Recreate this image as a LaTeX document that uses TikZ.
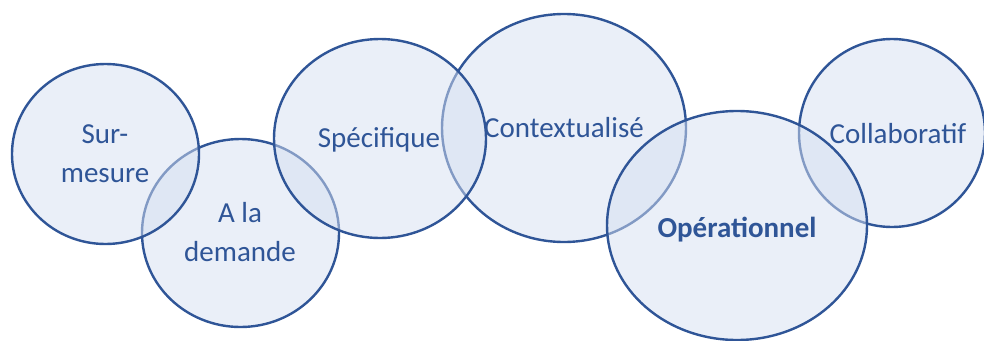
\documentclass[tikz,border=0pt]{standalone}
\usepackage{fontspec}
\setmainfont{Carlito}
\usetikzlibrary{shapes.geometric}
\definecolor{ringblue}{HTML}{2F5597}
\definecolor{ringfill}{HTML}{D5DFF1}
\tikzset{
  ring/.style={ellipse, draw=ringblue, line width=2.4pt, fill=ringfill, fill opacity=0.5, draw opacity=1, inner sep=0pt},
  lbl/.style={text=ringblue, font=\fontsize{29}{39}\selectfont, align=center, inner sep=0pt}
}
\begin{document}
\begin{tikzpicture}[x=1pt,y=-1pt]
\useasboundingbox (0,0) rectangle (984,340);
% circles (drawing order gives the overlaps)
\node[ring, minimum width=197pt, minimum height=188pt] (dem) at (240.5,233) {};
\node[ring, minimum width=187pt, minimum height=180pt] (sur) at (105.5,154) {};
\node[ring, minimum width=244pt, minimum height=228pt] (ctx) at (564,128) {};
\node[ring, minimum width=212pt, minimum height=199pt] (spe) at (380,138.5) {};
\node[ring, minimum width=186pt, minimum height=188pt] (col) at (892,133) {};
\node[ring, minimum width=260pt, minimum height=229pt] (ope) at (737,225.5) {};
% labels
\node[lbl] (tsur) at (105,154) {Sur-\\mesure};
\node[lbl] (tdem) at (240,232) {A la\\demande};
\node[lbl, anchor=base] (tspe) at (379,147) {Spécifique};
\node[lbl, anchor=base] (tctx) at (564,137) {Contextualisé};
\node[lbl, anchor=base, font=\fontsize{29}{38}\selectfont\bfseries] (tope) at (737,237) {Opérationnel};
\node[lbl, anchor=base] (tcol) at (898,143) {Collaboratif};
\end{tikzpicture}
\end{document}
